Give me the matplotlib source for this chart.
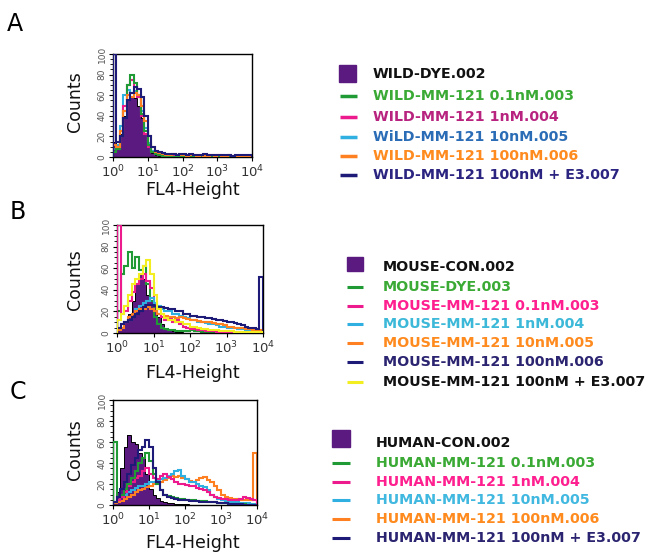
import numpy as np
import matplotlib
matplotlib.use("Agg")
import matplotlib.pyplot as plt
from matplotlib.lines import Line2D
from matplotlib.patches import Rectangle

W, H = 660, 554
# histogram bins: 10 per decade from 10^0 to 10^4
n_per_decade = 10
edges = 10 ** (np.arange(0, 41) / n_per_decade)

# ---------------- Panel A (WILD) ----------------
A_labels = ["WILD-DYE.002", "WILD-MM-121 0.1nM.003", "WILD-MM-121 1nM.004",
            "WiLD-MM-121 10nM.005", "WILD-MM-121 100nM.006", "WILD-MM-121 100nM + E3.007"]
A_dye = [15,12,22,40,55,58,57,50,38,22, 10,4,2,1,0,0,0,0,0,0,
         0,0,0,0,0,0,0,0,0,0, 0,0,0,0,0,0,0,0,0,0]
A_01 = [5,8,20,45,70,80,72,60,42,25, 12,5,3,2,1,1,1,0,1,0,
        0,1,0,0,0,0,0,0,0,0, 0,0,0,0,0,0,0,0,0,0]
A_1 = [5,10,25,50,70,75,68,58,40,22, 10,5,3,2,1,1,0,1,0,0,
       0,0,0,0,0,0,0,0,0,0, 0,0,0,0,0,0,0,0,0,0]
A_10 = [8,12,30,60,65,62,64,58,45,28, 14,6,3,2,1,1,1,0,0,0,
        0,0,0,0,0,0,0,0,0,0, 0,0,0,0,0,0,0,0,0,0]
A_100 = [12,10,25,45,60,58,62,60,50,35, 20,10,5,4,3,2,2,3,2,2,
         2,1,2,2,1,2,1,1,2,1, 2,1,1,2,1,1,0,1,0,0]
A_e3 = [100,15,20,38,55,62,68,66,58,40, 20,10,6,5,4,3,3,3,2,3,
        3,2,3,2,2,2,3,2,2,2, 2,2,2,2,1,2,2,2,2,2]

# ---------------- Panel B (MOUSE) ----------------
B_labels = ["MOUSE-CON.002", "MOUSE-DYE.003", "MOUSE-MM-121 0.1nM.003",
            "MOUSE-MM-121 1nM.004", "MOUSE-MM-121 10nM.005", "MOUSE-MM-121 100nM.006",
            "MOUSE-MM-121 100nM + E3.007"]
B_con = [3,6,10,18,30,45,55,50,35,30, 28,15,8,5,3,2,1,1,0,0,
         0,0,0,0,0,0,0,0,0,0, 0,0,0,0,0,0,0,0,0,0]
B_dye = [20,55,62,75,60,70,58,62,45,30, 15,8,5,4,3,3,2,2,2,2,
         3,2,2,1,1,1,0,0,0,0, 0,0,0,0,0,0,0,0,0,0]
B_01 = [100,18,20,30,38,45,50,55,48,42, 25,18,15,12,14,10,12,8,6,5,
        4,4,3,3,2,2,2,1,1,1, 1,1,0,1,0,0,0,0,0,0]
B_1 = [5,8,10,12,18,22,25,28,30,32, 28,25,22,20,20,18,18,16,15,14,
       12,12,10,10,9,8,8,7,6,6, 5,5,5,4,4,3,3,3,3,2]
B_10 = [3,5,10,15,18,20,22,22,24,22, 20,18,18,16,15,15,14,15,14,13,
        12,12,11,10,10,10,9,8,8,7, 6,6,5,5,5,4,4,3,3,3]
B_100 = [5,8,10,12,15,18,20,24,26,26, 25,24,24,23,22,22,20,20,18,18,
         16,16,15,15,14,14,13,12,12,11, 10,10,9,8,7,6,5,5,4,52]
B_e3 = [12,18,25,35,45,50,55,62,68,55, 35,22,18,14,12,12,10,10,8,8,
        6,6,5,4,4,3,3,3,2,2, 2,2,1,1,1,1,1,1,1,1]

# ---------------- Panel C (HUMAN) ----------------
C_labels = ["HUMAN-CON.002", "HUMAN-MM-121 0.1nM.003", "HUMAN-MM-121 1nM.004",
            "HUMAN-MM-121 10nM.005", "HUMAN-MM-121 100nM.006", "HUMAN-MM-121 100nM + E3.007"]
C_con = [3,12,35,55,67,60,58,50,45,30, 15,10,7,4,3,2,2,1,1,1,
         1,0,0,0,0,0,0,0,0,0, 0,0,0,0,0,0,0,0,0,0]
C_01 = [60,8,10,15,20,26,32,40,45,50, 42,30,20,14,10,9,8,7,6,6,
        5,5,5,4,4,4,3,3,3,2, 2,2,1,1,1,1,1,0,0,0]
C_1 = [3,5,8,12,18,22,26,28,32,35, 30,26,25,28,30,27,25,22,20,20,
       19,18,18,16,15,14,12,10,8,7, 6,6,5,5,5,6,8,7,6,5]
C_10 = [3,5,8,10,12,14,16,18,18,20, 22,22,24,25,26,28,30,32,33,28,
        25,22,22,20,18,17,14,10,8,6, 5,4,3,3,3,2,2,2,1,1]
C_100 = [2,3,4,6,8,10,12,14,15,17, 18,20,22,22,24,26,28,27,28,26,
         25,23,22,24,26,27,24,22,18,14, 10,8,7,6,6,5,5,5,5,50]
C_e3 = [3,8,15,22,30,38,45,52,55,62, 55,35,22,14,10,8,7,6,5,5,
        5,4,4,4,3,3,3,3,3,2, 2,2,1,1,1,1,0,0,0,0]

PURPLE = "#5b1a80"
GREEN = "#1f9a35"
MAGENTA = "#ec1a8c"
CYAN = "#2fb0e0"
ORANGE = "#ff8020"
NAVY = "#1e1a78"
YELLOW = "#f2ee20"

fig = plt.figure(figsize=(W / 100, H / 100), dpi=100)
fig.patch.set_facecolor("white")


def fx(x):
    return x / W


def fy(y):
    return 1 - y / H


def make_axes(left, right, top, bottom):
    ax = fig.add_axes([fx(left), fy(bottom), (right - left) / W, (bottom - top) / H])
    ax.set_xscale("log")
    ax.set_xlim(1, 1e4)
    ax.set_ylim(0, 100)
    ax.set_xticks([1, 10, 100, 1000, 10000])
    ax.set_xticklabels([r"$10^{0}$", r"$10^{1}$", r"$10^{2}$", r"$10^{3}$", r"$10^{4}$"],
                       fontsize=9.5, color="#333333")
    ax.set_yticks([0, 20, 40, 60, 80, 100])
    ax.set_yticks(np.arange(0, 101, 5), minor=True)
    ax.set_yticklabels(["0", "20", "40", "60", "80", "100"], rotation=90,
                       fontsize=6.5, color="#555555", va="center")
    ax.tick_params(axis="both", which="major", length=3, width=0.8, pad=1.5)
    ax.tick_params(axis="both", which="minor", length=2, width=0.6)
    for s in ax.spines.values():
        s.set_linewidth(1.0)
        s.set_color("black")
    return ax


def draw_panel(ax, fill_vals, lines):
    ax.stairs(fill_vals, edges, fill=True, color=PURPLE, zorder=1)
    ax.stairs(fill_vals, edges, color="black", lw=0.7, zorder=1.5)
    for z, (vals, col) in enumerate(lines):
        ax.stairs(np.minimum(vals, 100), edges, color=col, lw=1.5, zorder=2 + z)


def legend(square, text_x, rows, labels, text_colors, line_colors, line_x, lws):
    sx0, sx1, sy0, sy1 = square
    fig.add_artist(Rectangle((fx(sx0), fy(sy1)), (sx1 - sx0) / W, (sy1 - sy0) / H,
                             transform=fig.transFigure, color=PURPLE))
    for i, (y, lab, tc) in enumerate(zip(rows, labels, text_colors)):
        fig.text(fx(text_x), fy(y), lab, color=tc, fontsize=10.3, fontweight="bold",
                 va="center", ha="left", family="DejaVu Sans")
        if i > 0:
            fig.add_artist(Line2D([fx(line_x[0]), fx(line_x[1])], [fy(y), fy(y)],
                                  transform=fig.transFigure, color=line_colors[i - 1],
                                  lw=lws, solid_capstyle="butt"))


LABEL_KW = dict(fontsize=12.5, ha="center", va="center", color="#111111")

# ---- Panel A ----
axA = make_axes(113, 252, 54, 157)
draw_panel(axA, A_dye, [(A_10, CYAN), (A_1, MAGENTA), (A_01, GREEN), (A_100, ORANGE), (A_e3, NAVY)])
fig.text(fx(15), fy(24), "A", fontsize=17, ha="center", va="center")
fig.text(fx(75), fy(102), "Counts", rotation=90, **LABEL_KW)
fig.text(fx(193), fy(190), "FL4-Height", **LABEL_KW)
legend((339, 356, 65, 82), 373, [74, 96, 117, 137, 156, 175], A_labels,
       ["#111111", "#3aaa35", "#b8237f", "#2a6cb5", "#ff8a1e", "#2b2480"],
       [GREEN, MAGENTA, CYAN, ORANGE, NAVY], (340, 357), 2.5)

# ---- Panel B ----
axB = make_axes(117, 263, 225, 333)
draw_panel(axB, B_con, [(B_dye, GREEN), (B_01, MAGENTA), (B_1, CYAN), (B_10, ORANGE),
                        (B_100, NAVY), (B_e3, YELLOW)])
fig.text(fx(18), fy(212), "B", fontsize=17, ha="center", va="center")
fig.text(fx(75), fy(280), "Counts", rotation=90, **LABEL_KW)
fig.text(fx(193), fy(373), "FL4-Height", **LABEL_KW)
legend((347, 363, 257, 271), 383, [267, 287, 306, 324, 343, 362, 382], B_labels,
       ["#111111", "#3aaa35", "#ff1f8f", "#3cb8d8", "#ff8a1e", "#2b2470", "#111111"],
       [GREEN, MAGENTA, CYAN, ORANGE, NAVY, YELLOW], (347, 363), 2.2)

# ---- Panel C ----
axC = make_axes(113, 257, 400, 505)
draw_panel(axC, C_con, [(C_100, ORANGE), (C_10, CYAN), (C_1, MAGENTA), (C_01, GREEN), (C_e3, NAVY)])
fig.text(fx(18), fy(392), "C", fontsize=17, ha="center", va="center")
fig.text(fx(75), fy(450), "Counts", rotation=90, **LABEL_KW)
fig.text(fx(193), fy(543), "FL4-Height", **LABEL_KW)
legend((332, 350, 430, 447), 376, [443, 463, 482, 500, 519, 538], C_labels,
       ["#111111", "#3aaa35", "#ff2090", "#40b8e0", "#ff8a1e", "#2b2470"],
       [GREEN, MAGENTA, CYAN, ORANGE, NAVY], (332, 350), 2.2)

fig.savefig("out.png", dpi=100)
